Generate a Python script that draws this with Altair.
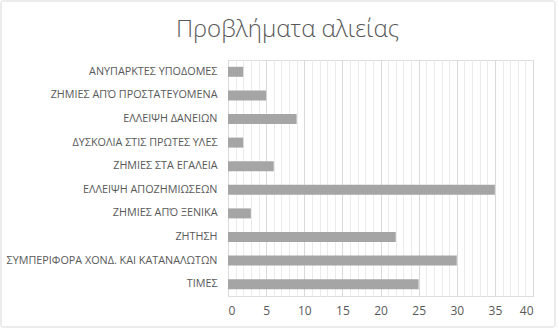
import altair as alt
import pandas as pd

categories = [
    "ΑΝΥΠΑΡΚΤΕΣ ΥΠΟΔΟΜΕΣ",
    "ΖΗΜΙΕΣ ΑΠΌ ΠΡΟΣΤΑΤΕΥΟΜΕΝΑ",
    "ΕΛΛΕΙΨΗ ΔΑΝΕΙΩΝ",
    "ΔΥΣΚΟΛΙΑ ΣΤΙΣ ΠΡΩΤΕΣ ΥΛΕΣ",
    "ΖΗΜΙΕΣ ΣΤΑ ΕΓΑΛΕΙΑ",
    "ΕΛΛΕΙΨΗ ΑΠΟΖΗΜΙΩΣΕΩΝ",
    "ΖΗΜΙΕΣ ΑΠΌ ΞΕΝΙΚΑ",
    "ΖΗΤΗΣΗ",
    "ΣΥΜΠΕΡΙΦΟΡΑ ΧΟΝΔ. ΚΑΙ ΚΑΤΑΝΑΛΩΤΩΝ",
    "ΤΙΜΕΣ",
]
values = [2, 5, 9, 2, 6, 35, 3, 22, 30, 25]

df = pd.DataFrame({"cat": categories, "value": values})

FONT = "Open Sans"
TXT = "#595959"

bars = alt.Chart(df).mark_bar(color="#a5a5a5", size=10).encode(
    x=alt.X(
        "value:Q",
        scale=alt.Scale(domain=[0, 40], nice=False, zero=True),
        axis=alt.Axis(
            values=list(range(0, 41)),
            labelExpr="datum.value % 5 === 0 ? datum.label : ''",
            grid=True,
            gridColor=alt.condition("datum.value % 5 === 0", alt.value("#d9d9d9"), alt.value("#ebebeb")),
            domain=False,
            ticks=False,
            labelFont=FONT,
            labelFontSize=12,
            labelColor=TXT,
            labelPadding=9,
            title=None,
        ),
    ),
    y=alt.Y(
        "cat:N",
        sort=categories,
        scale=alt.Scale(paddingInner=0, paddingOuter=0),
        axis=alt.Axis(
            title=None,
            domain=False,
            ticks=False,
            labelFont=FONT,
            labelFontSize=10.8,
            labelColor=TXT,
            labelPadding=11,
            labelLimit=400,
        ),
    ),
)

frame = alt.Chart(alt.Data(values=[{"a": 1}])).mark_rect(
    fill=None, stroke="#d9d9d9", strokeWidth=1, cornerRadius=2
).encode(
    x=alt.value(-227), x2=alt.value(327), y=alt.value(-59), y2=alt.value(267)
)

chart = alt.layer(frame, bars).properties(
    width=305,
    height=236,
    autosize=alt.AutoSizeParams(type="none"),
    padding={"left": 228, "top": 60, "right": 26, "bottom": 36},
    title=alt.TitleParams(
        "Προβλήματα αλιείας",
        font=FONT,
        fontSize=24,
        fontWeight=300,
        color=TXT,
        anchor="middle",
        frame="group",
        dx=-93,
        dy=41,
        offset=0,
    ),
).configure_view(stroke=None).configure(background="white")

chart.save("out.html", embed_options={"renderer": "svg", "actions": False})
